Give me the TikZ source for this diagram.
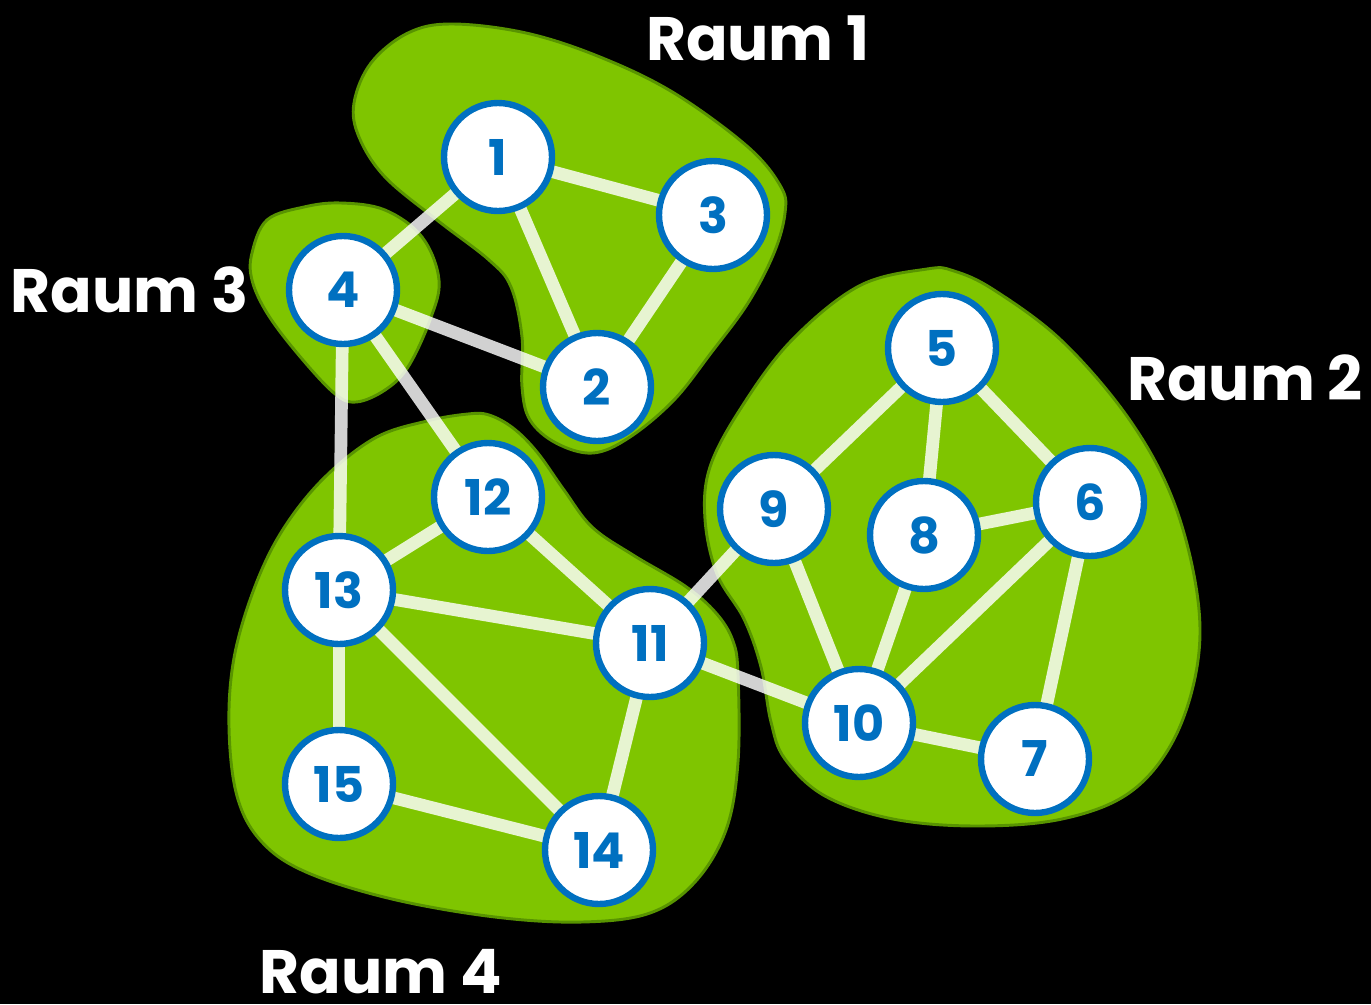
\documentclass[tikz,border=0pt]{standalone}
\usepackage{fontspec}
\setmainfont{Poppins}
\pgfdeclarelayer{blobs}
\pgfdeclarelayer{edges}
\pgfsetlayers{blobs,edges,main}
\definecolor{blobgreen}{RGB}{127,197,0}
\definecolor{blobline}{RGB}{88,148,0}
\definecolor{nodeblue}{RGB}{0,112,192}
\tikzset{
  vertex/.style={circle, draw=nodeblue, fill=white, line width=4.8pt, minimum size=81pt, inner sep=0pt, text=nodeblue, font=\fontsize{37}{37}\selectfont\bfseries},
  link/.style={draw=white, draw opacity=0.82, line width=9.5pt},
  room/.style={fill=blobgreen, draw=blobline, line width=2.2pt},
  roomlabel/.style={text=white, font=\fontsize{46}{46}\selectfont\bfseries, inner sep=0pt}
}
\begin{document}
\begin{tikzpicture}[x=0.75pt,y=-0.75pt]
\useasboundingbox (0,0) rectangle (1371,1004);
\begin{pgfonlayer}{blobs}
\fill[black] (0,0) rectangle (1371,1004);
\draw[room] plot[smooth cycle, tension=0.6] coordinates {(354,103) (371,63) (408,33) (452,24) (526,33) (600,57) (674,93) (748,147) (781,187) (785,213) (774,253) (748,303) (711,353) (674,400) (630,437) (593,453) (556,443) (530,420) (522,387) (522,337) (511,287) (489,260) (437,220) (385,177) (359,137)};
\draw[room] plot[smooth cycle, tension=0.6] coordinates {(252,253) (267,220) (304,207) (341,203) (385,210) (422,237) (439,280) (430,320) (408,367) (385,390) (356,402) (334,393) (297,353) (267,313) (252,280)};
\draw[room] plot[smooth cycle, tension=0.6] coordinates {(468,414) (427,421) (375,438) (323,479) (282,531) (254,589) (234,658) (229,727) (237,796) (261,841) (306,872) (392,899) (495,917) (582,922) (650,913) (695,882) (726,830) (738,762) (738,675) (733,641) (716,613) (685,586) (633,555) (592,527) (564,490) (537,452) (513,428) (489,415)};
\draw[room] plot[smooth cycle, tension=0.6] coordinates {(927,269) (859,286) (791,341) (741,408) (710,467) (705,519) (717,574) (744,619) (761,667) (771,722) (785,759) (825,796) (893,819) (977,826) (1062,819) (1129,793) (1173,741) (1197,667) (1197,593) (1173,500) (1129,419) (1062,341) (994,290) (954,271)};
\end{pgfonlayer}
\node[vertex] (n1) at (498,157) {1};
\node[vertex] (n2) at (597,387) {2};
\node[vertex] (n3) at (713,215) {3};
\node[vertex] (n4) at (343,290) {4};
\node[vertex] (n5) at (942,348) {5};
\node[vertex] (n6) at (1090,502) {6};
\node[vertex] (n7) at (1035,759) {7};
\node[vertex] (n8) at (924,535) {8};
\node[vertex] (n9) at (774,509) {9};
\node[vertex] (n10) at (859,723) {10};
\node[vertex] (n11) at (650,643) {11};
\node[vertex] (n12) at (488,497) {12};
\node[vertex] (n13) at (339,590) {13};
\node[vertex] (n14) at (599,850) {14};
\node[vertex] (n15) at (339,784) {15};
\begin{pgfonlayer}{edges}
\foreach \a/\b in {n1/n3, n1/n2, n1/n4, n3/n2, n4/n2, n4/n13, n4/n12, n12/n13, n12/n11, n13/n11, n13/n15, n13/n14, n15/n14, n11/n14, n11/n9, n11/n10, n5/n9, n5/n8, n5/n6, n8/n6, n8/n10, n9/n10, n6/n10, n6/n7, n10/n7}
  \draw[link] (\a.center) -- (\b.center);
\end{pgfonlayer}
\node[roomlabel] (r1) at (758,38) {Raum 1};
\node[roomlabel] (r3) at (130,290) {Raum 3};
\node[roomlabel] (r2) at (1245,378) {Raum 2};
\node[roomlabel] (r4) at (381,972) {Raum 4};
\end{tikzpicture}
\end{document}
